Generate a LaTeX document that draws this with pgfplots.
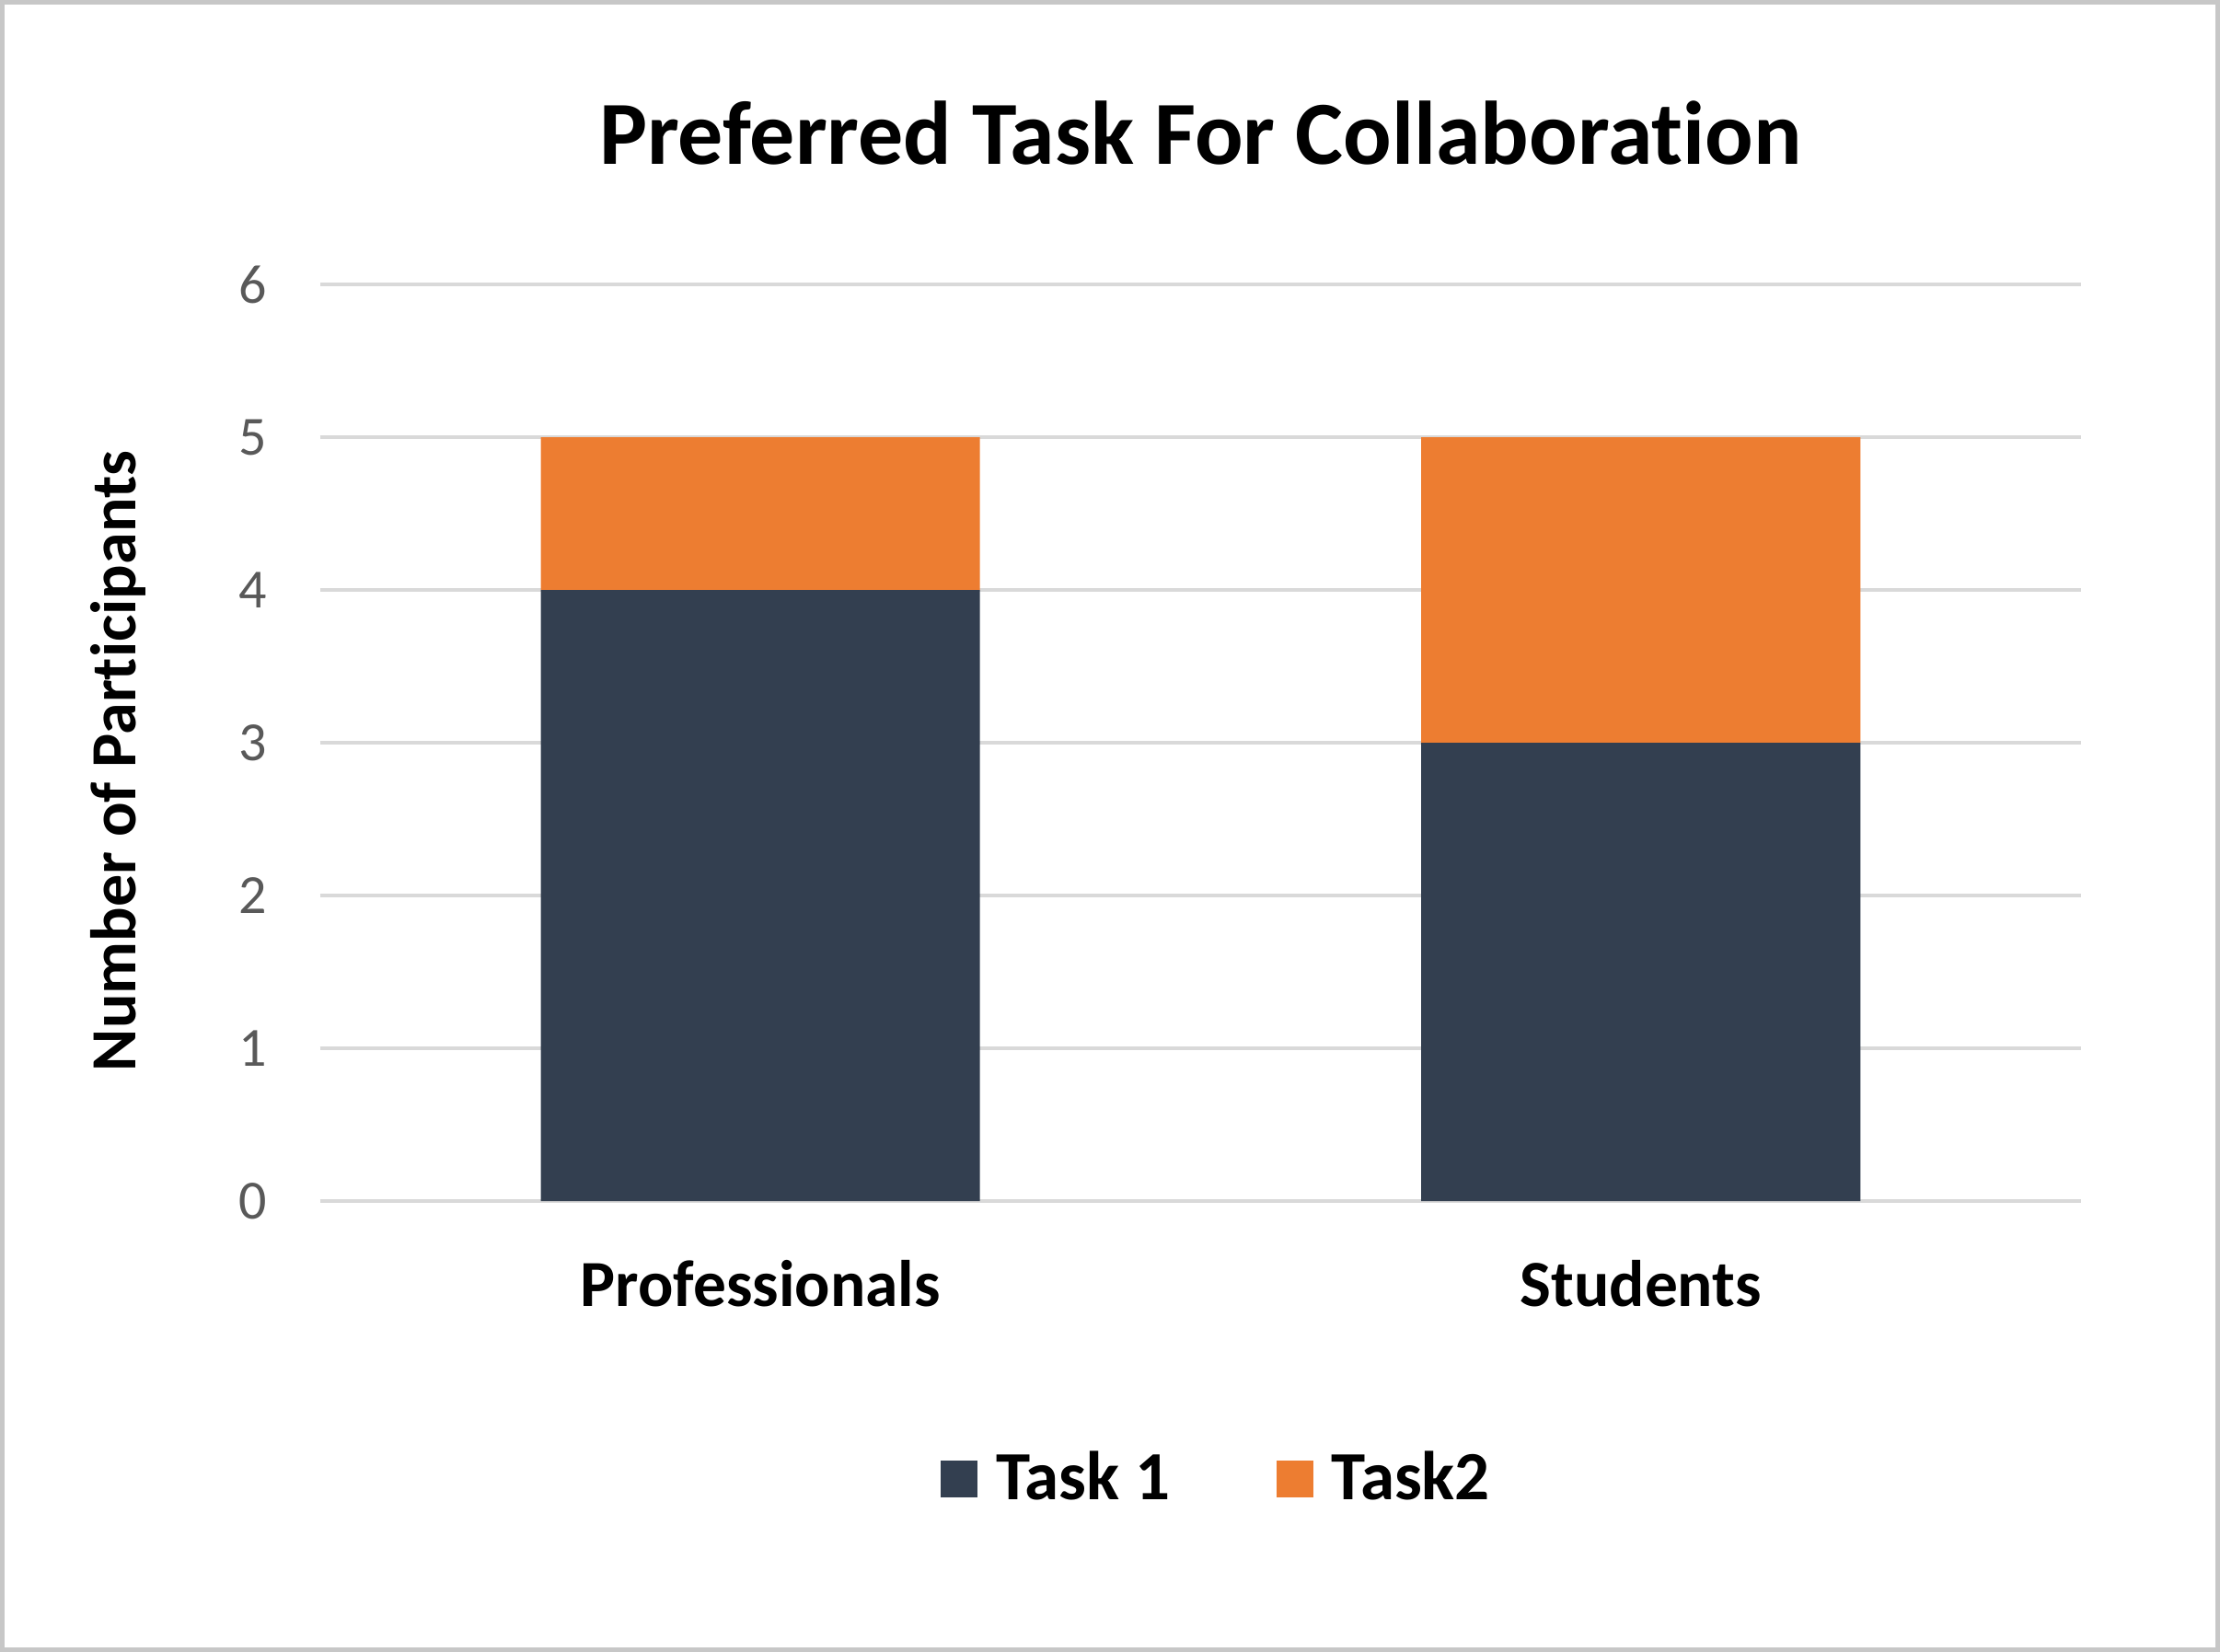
\documentclass[border=0pt]{standalone}
\usepackage{pgfplots}
\pgfplotsset{compat=1.18}
\usepackage{fontspec}
\setmainfont[Ligatures=NoCommon]{Carlito}

\definecolor{taskone}{HTML}{333F50}
\definecolor{tasktwo}{HTML}{ED7D31}
\definecolor{gridgray}{HTML}{D9D9D9}
\definecolor{ticktext}{HTML}{595959}

\begin{document}
\begin{tikzpicture}
	\useasboundingbox (-69.6pt,-98pt) rectangle (412.8pt,261pt);
	\draw[color=black!22, line width=0.9pt] (-69.1pt,-97.5pt) rectangle (412.3pt,260.5pt);
	\begin{axis}[
		at={(0pt,0pt)}, anchor=south west,
		scale only axis,
		width=382.6pt, height=199.2pt,
		ybar stacked,
		bar width=95.4pt,
		xmin=-0.5, xmax=1.5,
		ymin=0, ymax=6,
		ytick={0,1,...,6},
		xtick=data,
		xticklabels={Professionals,Students},
		axis line style={draw=none},
		major tick length=0pt,
		ymajorgrids,
		grid style={color=gridgray, line width=0.7pt},
		/pgf/number format/assume math mode=true,
		yticklabel style={font=\fontsize{12}{14}\selectfont, text=ticktext, anchor=east, xshift=-8pt},
		xticklabel style={font=\bfseries\fontsize{14.3}{16}\selectfont, anchor=center, yshift=-18pt},
		ylabel={Number of Participants},
		ylabel style={font=\bfseries\fontsize{14}{16}\selectfont, at={(axis description cs:-0.115,0.48)}, anchor=center},
		title={Preferred Task For Collaboration},
		title style={font=\bfseries\fontsize{19.6}{22}\selectfont, at={(axis description cs:0.5,1)}, anchor=center, yshift=27pt},
		legend columns=2,
		legend style={draw=none, font=\bfseries\fontsize{15}{17}\selectfont,
			at={(axis description cs:0.511,-0.303)}, anchor=center,
			/tikz/every odd column/.append style={column sep=2pt},
			/tikz/every even column/.append style={column sep=21pt},
			nodes={inner sep=2pt}},
		legend image code/.code={\fill[#1] (0pt,-4pt) rectangle (8pt,4pt);},
		]
		\addplot [draw=none, fill=taskone] coordinates {(0,4) (1,3)};
		\addplot [draw=none, fill=tasktwo] coordinates {(0,1) (1,2)};
		\legend{Task 1,Task2}
	\end{axis}
\end{tikzpicture}
\end{document}
